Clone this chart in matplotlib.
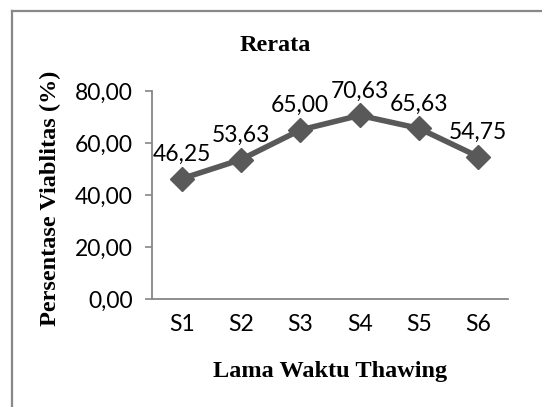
import matplotlib.pyplot as plt
from matplotlib.lines import Line2D

# data
categories = ["S1", "S2", "S3", "S4", "S5", "S6"]
viability = [46.25, 53.63, 65.00, 70.63, 65.63, 54.75]
y_ticks = [0, 20, 40, 60, 80]

# --------------------------------------------------
# figure and axes
# --------------------------------------------------
fig = plt.figure(figsize=(5.42, 4.07), dpi=100)
ax = fig.add_axes([0.2804, 0.2654, 0.6568, 0.5110])

x = list(range(len(categories)))
ax.plot(x, viability, color="#595959", linewidth=4, marker="D",
        markersize=12.5, markerfacecolor="#595959", markeredgecolor="#595959")

for xi, v in zip(x, viability):
    label = f"{v:.2f}".replace(".", ",")
    ax.annotate(label, (xi, v), xytext=(0, 17.5), textcoords="offset points",
                ha="center", va="center", fontsize=16.5, family="Lato")

ax.set_xlim(-0.5, len(categories) - 0.5)
ax.set_ylim(0, 80)
ax.set_xticks(x)
ax.set_xticklabels(categories, family="Lato", fontsize=16.5)
ax.set_yticks(y_ticks)
ax.set_yticklabels([f"{t:.2f}".replace(".", ",") for t in y_ticks],
                   family="Lato", fontsize=16.5)

ax.tick_params(axis="x", length=0, pad=11)
ax.tick_params(axis="y", length=5, width=1.2, color="#868686", pad=9)

for side in ["top", "right"]:
    ax.spines[side].set_visible(False)
for side in ["left", "bottom"]:
    ax.spines[side].set_color("#868686")
    ax.spines[side].set_linewidth(1.3)

# titles as free text
fig.text(0.507, 0.887, "Rerata", ha="center", va="center",
         family="Liberation Serif", fontweight="bold", fontsize=17.5)
fig.text(0.609, 0.088, "Lama Waktu Thawing", ha="center", va="center",
         family="Liberation Serif", fontweight="bold", fontsize=17.5)
fig.text(0.094, 0.512, "Persentase Viablitas (%)", ha="center", va="center",
         rotation=90, family="Liberation Serif", fontweight="bold", fontsize=17.5)

# border of the chart area (left and top edges visible)
fig.add_artist(Line2D([12 / 542, 12 / 542], [0, 1 - 11 / 407],
                      transform=fig.transFigure, color="#888888", linewidth=1.6))
fig.add_artist(Line2D([12 / 542, 1], [1 - 11 / 407, 1 - 11 / 407],
                      transform=fig.transFigure, color="#888888", linewidth=1.6))

fig.savefig("out.png", dpi=100)
